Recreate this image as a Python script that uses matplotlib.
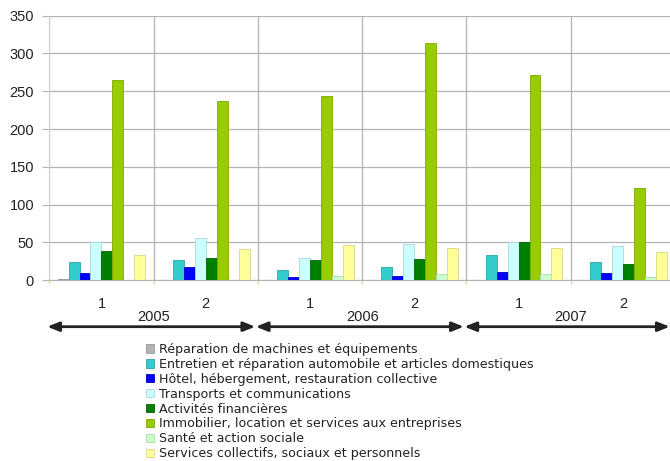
import matplotlib
matplotlib.use("Agg")
import matplotlib.pyplot as plt
import numpy as np
from matplotlib.transforms import blended_transform_factory
from matplotlib.patches import Patch

plt.rcParams['font.family'] = ['Liberation Sans', 'DejaVu Sans']

halves = ["1", "2", "1", "2", "1", "2"]
years = ["2005", "2006", "2007"]
series = [
    "Réparation de machines et équipements",
    "Entretien et réparation automobile et articles domestiques",
    "Hôtel, hébergement, restauration collective",
    "Transports et communications",
    "Activités financières",
    "Immobilier, location et services aux entreprises",
    "Santé et action sociale",
    "Services collectifs, sociaux et personnels",
]
reparation = [1.5, 0.5, 0, 0, 0, 0]
entretien = [24, 27, 14, 17, 33, 24]
hotel = [9, 17, 4.5, 6, 10.5, 9]
transports = [50, 56, 30, 48.5, 50, 46]
financieres = [39, 29.5, 26.5, 28, 50, 21]
immobilier = [265, 237, 244, 314, 271, 122]
sante = [1, 1, 6, 8.5, 8, 4.5]
services = [33, 42, 47, 43, 43, 37]
values = [reparation, entretien, hotel, transports, financieres, immobilier, sante, services]
colors = ["#b3b3b3", "#33cccc", "#0000ff", "#ccffff", "#008000", "#99cc00", "#ccffcc", "#ffff99"]
edges = ["#999999", "#2aa8a8", "#0000cc", "#a8d8d8", "#006600", "#7fa800", "#a8d8a8", "#d8d880"]

W, H = 670, 461
fig = plt.figure(figsize=(W / 100, H / 100), dpi=100)
left_px, right_px, top_px, bot_px = 49.3, 675.0, 15.7, 280.3
ax = fig.add_axes([left_px / W, 1 - bot_px / H, (right_px - left_px) / W, (bot_px - top_px) / H])

n = len(halves)
bw = 0.105
x = np.arange(n) + 0.5
for i, (vals, c, e) in enumerate(zip(values, colors, edges)):
    ax.bar(x + (i - 3.5) * bw, vals, width=bw, color=c, edgecolor=e, linewidth=0.6, zorder=3)

ax.set_xlim(0, n)
ax.set_ylim(0, 350)
ax.set_yticks(np.arange(0, 351, 50))
ax.set_xticks(np.arange(0, n + 1))
ax.set_xticklabels([])
ax.grid(True, color="#b3b3b3", linewidth=0.9, zorder=0)
ax.tick_params(axis='y', length=5, color="#b3b3b3", pad=6, labelsize=10.5, labelcolor="#222222")
ax.tick_params(axis='x', length=3, color="#d8d890", direction='out')
for s in ["top", "right"]:
    ax.spines[s].set_visible(False)
ax.spines["left"].set_color("#d8d890")
ax.spines["bottom"].set_color("#b3b3b3")
ax.spines["left"].set_zorder(4)

tr = blended_transform_factory(ax.transData, fig.transFigure)
for i, h in enumerate(halves):
    ax.text(i + 0.5, 1 - 303.5 / H, h, transform=tr, ha='center', va='center', fontsize=10.5, color="#222222")
for j, yv in enumerate(years):
    ax.text(2 * j + 1, 1 - 317 / H, yv, transform=tr, ha='center', va='center', fontsize=10.5, color="#222222")
    x0 = 2 * j - 0.02
    x1 = min(2 * j + 1.975, 5.95)
    ax.annotate("", xy=(x1, 1 - 326.7 / H), xytext=(x0, 1 - 326.7 / H), xycoords=tr, textcoords=tr,
                arrowprops=dict(arrowstyle='<|-|>,head_length=0.7,head_width=0.28', color="#222222", lw=2,
                                shrinkA=0, shrinkB=0), annotation_clip=False)

handles = [Patch(facecolor=c, edgecolor=e, linewidth=0.6) for c, e in zip(colors, edges)]
fig.legend(handles, series, loc='upper left', bbox_to_anchor=(146 / W, 1 - 343 / H), frameon=False,
           prop={'family': 'DejaVu Sans', 'size': 9.1}, handlelength=0.62, handleheight=0.62,
           handletextpad=0.4, labelspacing=0.15,
           borderpad=0, borderaxespad=0, labelcolor="#222222")

fig.savefig("out.png", dpi=100)
